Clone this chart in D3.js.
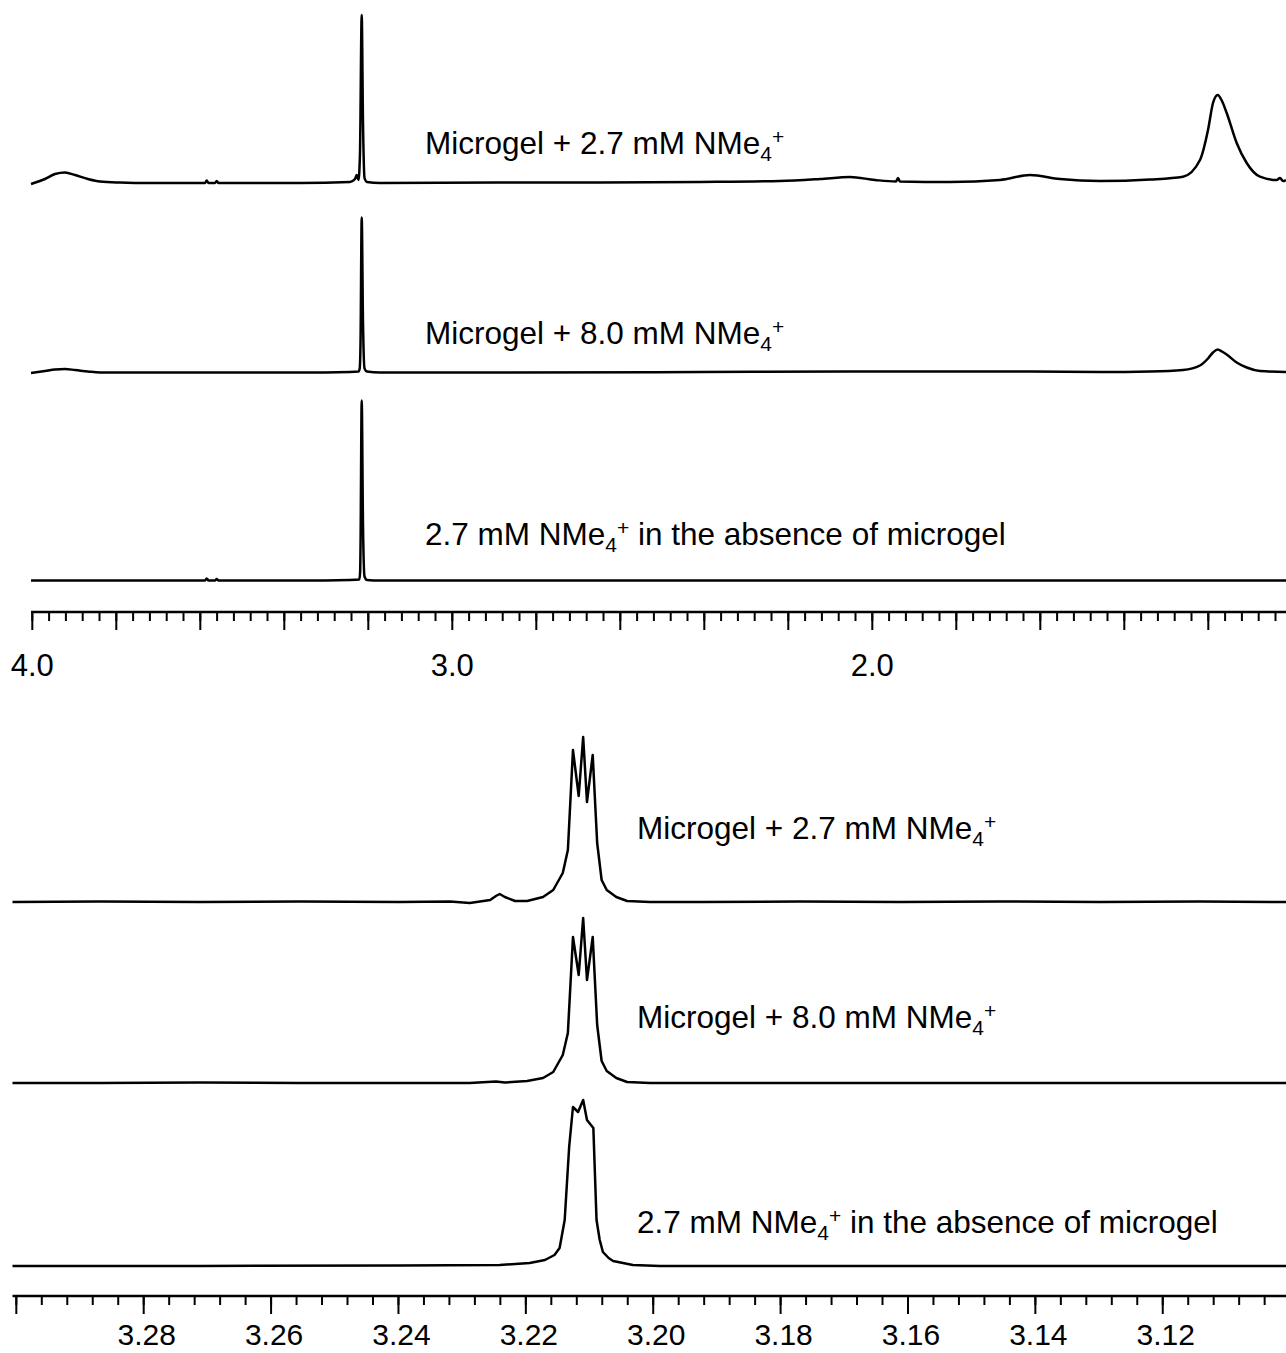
<!DOCTYPE html>
<html>
<head>
<meta charset="utf-8">
<script src="https://cdn.jsdelivr.net/npm/d3@7"></script>
<style>
  body { margin: 0; background: #fff; }
  svg { display: block; font-family: "Liberation Sans", Arial, sans-serif; }
</style>
</head>
<body>
<div id="chart"></div>
<script>
// 1H NMR spectra: [ppm, intensity (a.u.)]

// wide range 4.0 - 1.0 ppm
const wideMicrogel27 = [
  [4.0031, -1], [3.9698, 4], [3.9460, 9], [3.9221, 10.5], [3.8983, 8], [3.8674, 4],
  [3.8388, 1.5], [3.7912, 0.5], [3.7198, 0], [3.5888, 0], [3.5848, 2.5], [3.5805, 0],
  [3.5650, 0], [3.5610, 2], [3.5567, 0], [3.3626, 0], [3.2436, 1], [3.2317, 4],
  [3.2276, 8], [3.2233, 3], [3.2198, 30], [3.2157, 168], [3.2126, 60], [3.2090, 5],
  [3.2031, 1], [3.1721, 0], [2.8864, 0.5], [2.6483, 0.5], [2.4102, 1], [2.2198, 2],
  [2.1245, 4], [2.0531, 6], [1.9936, 3], [1.9436, 1.5], [1.9388, 5], [1.9340, 1.5],
  [1.8150, 1], [1.6960, 3], [1.6245, 8], [1.5531, 4], [1.4579, 2], [1.3388, 3.5],
  [1.2602, 6.3], [1.2198, 23], [1.2007, 53], [1.1888, 80], [1.1776, 88], [1.1674, 82],
  [1.1562, 70], [1.1324, 40], [1.1086, 20], [1.0769, 6.3], [1.0371, 3], [1.0293, 5],
  [1.0221, 2], [1.0150, 3]
];
const wideMicrogel80 = [
  [4.0031, -0.5], [3.9698, 1.5], [3.9460, 3], [3.9221, 3.5], [3.8983, 2.5], [3.8674, 1],
  [3.8388, 0], [3.7198, 0], [3.3626, 0], [3.2436, 0.5], [3.2233, 1], [3.2205, 4], [3.2185, 30],
  [3.2157, 155], [3.2126, 50], [3.2090, 4], [3.2031, 1], [3.1721, 0], [2.8864, 0],
  [2.4102, 0.5], [2.0531, 1], [1.6245, 1], [1.4579, 0.5], [1.3388, 1], [1.2602, 2.5],
  [1.2198, 7], [1.2007, 14], [1.1888, 20], [1.1776, 23], [1.1674, 21], [1.1562, 18],
  [1.1324, 10], [1.1086, 5], [1.0769, 1.5], [1.0150, 0.5]
];
const wideFree27 = [
  [4.0031, 0], [3.7198, 0], [3.5888, 0], [3.5848, 2], [3.5805, 0], [3.5650, 0],
  [3.5610, 1.5], [3.5567, 0], [3.3626, 0], [3.2436, 0.5], [3.2215, 1], [3.2195, 8], [3.2185, 35],
  [3.2157, 180], [3.2126, 55], [3.2090, 4], [3.2031, 0.5], [3.1721, 0], [2.4102, 0],
  [1.6245, 0], [1.0150, 0]
];

// expanded range 3.30 - 3.10 ppm
const zoomMicrogel27 = [
  [3.3006, 0], [3.2869, 0.5], [3.2712, 0], [3.2555, 0.5], [3.2398, 0], [3.2319, 0.5],
  [3.2288, -1], [3.2256, 2], [3.2247, 6], [3.2241, 8], [3.2233, 5], [3.2217, 1],
  [3.2198, 1], [3.2173, 5], [3.2157, 12], [3.2142, 29], [3.2134, 52], [3.2126, 152],
  [3.2117, 106], [3.2110, 165], [3.2104, 100], [3.2095, 147], [3.2088, 59], [3.2081, 22],
  [3.2073, 12], [3.2058, 5], [3.2041, 1], [3.2005, 0], [3.1927, 0], [3.1770, 0.5],
  [3.1613, 0], [3.1456, 0.5], [3.1299, 0], [3.1142, 0.5], [3.1000, 0]
];
const zoomMicrogel80 = [
  [3.3006, 0], [3.2869, 0], [3.2712, 0.5], [3.2555, 0], [3.2398, 0], [3.2288, 0],
  [3.2247, 1.5], [3.2233, 0.5], [3.2198, 2], [3.2173, 5], [3.2157, 11], [3.2142, 28],
  [3.2134, 50], [3.2126, 146], [3.2117, 108], [3.2110, 165], [3.2104, 103], [3.2095, 146],
  [3.2088, 58], [3.2081, 22], [3.2073, 12], [3.2058, 5], [3.2041, 1], [3.2005, 0],
  [3.1770, 0], [3.1456, 0], [3.1000, 0]
];
const zoomFree27 = [
  [3.3006, 0], [3.2712, 0], [3.2398, 0.5], [3.2241, 1], [3.2194, 3], [3.2170, 6], [3.2155, 11],
  [3.2147, 18], [3.2139, 46], [3.2132, 119], [3.2126, 159], [3.2118, 154], [3.2110, 166],
  [3.2104, 146], [3.2094, 138], [3.2089, 46], [3.2084, 26], [3.2079, 14], [3.2070, 8], [3.2063, 5],
  [3.2032, 1], [3.1989, 0], [3.1770, 0], [3.1456, 0], [3.1000, 0]
];

const traceNames = ["Microgel + 2.7 mM", "Microgel + 8.0 mM", "2.7 mM"];
const traceSuffix = ["", "", " in the absence of microgel"];

const wideMajorTicks = d3.range(0, 15).map(i => +(4.0 - i * 0.2).toFixed(2));
const wideMinorTicks = d3.range(0, 75).map(i => +(4.0 - i * 0.04).toFixed(2));
const wideTickLabels = ["4.0", "3.0", "2.0"];
const zoomMajorTicks = [3.30, 3.28, 3.26, 3.24, 3.22, 3.20, 3.18, 3.16, 3.14, 3.12, 3.10];
const zoomMinorTicks = d3.range(0, 51).map(i => +(3.30 - i * 0.004).toFixed(3));
const zoomTickLabels = ["3.28", "3.26", "3.24", "3.22", "3.20", "3.18", "3.16", "3.14", "3.12"];

const width = 1286, height = 1353;
const svg = d3.select("#chart").append("svg")
  .attr("width", width)
  .attr("height", height);

const xWide = d3.scaleLinear().domain([4.0031, 1.0]).range([31, 31 + 3.0031 * 420]);
const xZoom = d3.scaleLinear().domain([3.3006, 3.1]).range([12.5, 12.5 + 0.2006 * 6369]);

function drawPanel(x, traces, baselines, labelX, labelY, curve) {
  traces.forEach((data, i) => {
    const y = d3.scaleLinear().domain([0, 100]).range([baselines[i], baselines[i] - 100]);
    const line = d3.line().x(d => x(d[0])).y(d => y(d[1])).curve(curve);
    svg.append("path")
      .datum(data)
      .attr("d", line)
      .attr("fill", "none")
      .attr("stroke", "#000")
      .attr("stroke-width", 2.5)
      .attr("stroke-linejoin", "round");

    const t = svg.append("text")
      .attr("x", labelX)
      .attr("y", labelY[i])
      .attr("font-size", "31.5px")
      .attr("fill", "#000");
    t.append("tspan").text(traceNames[i] + " NMe");
    t.append("tspan").attr("font-size", "21px").attr("dy", 7).text("4");
    t.append("tspan").attr("font-size", "21px").attr("dy", -17).text("+");
    if (traceSuffix[i]) t.append("tspan").attr("dy", 10).text(traceSuffix[i]);
  });
}

function drawAxis(x, axisY, major, minor, labels, labelY, fontSize, dx) {
  const g = svg.append("g").attr("transform", `translate(0,${axisY})`);
  g.append("line")
    .attr("x1", x.range()[0]).attr("x2", width)
    .attr("stroke", "#000").attr("stroke-width", 2.5);
  g.selectAll("line.minor").data(minor).enter().append("line")
    .attr("class", "minor")
    .attr("x1", d => x(d)).attr("x2", d => x(d))
    .attr("y1", 0).attr("y2", 9)
    .attr("stroke", "#000").attr("stroke-width", 2);
  g.selectAll("line.major").data(major).enter().append("line")
    .attr("class", "major")
    .attr("x1", d => x(d)).attr("x2", d => x(d))
    .attr("y1", 0).attr("y2", 18)
    .attr("stroke", "#000").attr("stroke-width", 2);
  svg.selectAll(null).data(labels).enter().append("text")
    .attr("x", d => x(+d) + dx)
    .attr("y", labelY)
    .attr("text-anchor", "middle")
    .attr("font-size", fontSize)
    .attr("fill", "#000")
    .text(d => d);
}

drawPanel(xWide, [wideMicrogel27, wideMicrogel80, wideFree27], [183, 372.5, 580.5], 425, [154, 344, 545], d3.curveMonotoneX);
drawAxis(xWide, 612, wideMajorTicks, wideMinorTicks, wideTickLabels, 676, "31px", 0);

drawPanel(xZoom, [zoomMicrogel27, zoomMicrogel80, zoomFree27], [902, 1083, 1266], 637, [839, 1028, 1233], d3.curveLinear);
drawAxis(xZoom, 1296, zoomMajorTicks, zoomMinorTicks, zoomTickLabels, 1345, "30px", 3);
</script>
</body>
</html>
